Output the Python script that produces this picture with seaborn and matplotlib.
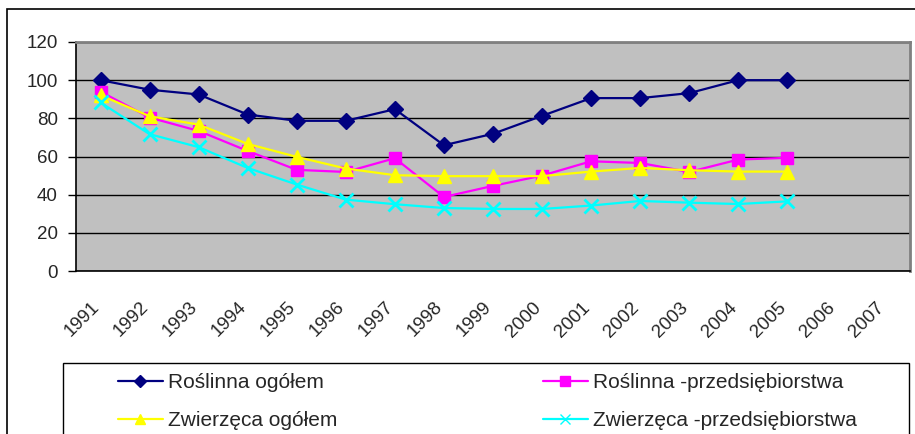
import numpy as np
import pandas as pd
import seaborn as sns
import matplotlib
matplotlib.use("Agg")
from matplotlib import pyplot as plt
from matplotlib.patches import Rectangle
from matplotlib.lines import Line2D

# ------- dane --------------
lata = [str(r) for r in range(1991, 2008)]  # etykiety osi x (1991-2007)

roslinna_ogolem = [100, 95, 92.5, 82, 78.7, 78.7, 84.8, 65.9, 71.9, 81.3, 90.6, 90.6, 93.2, 100, 100]
roslinna_przeds = [94, 80.4, 73.4, 62.9, 53, 51.9, 59.1, 38.8, 44.6, 50, 57.5, 56.6, 51.9, 58.4, 59.3]
zwierzeca_ogolem = [92.1, 81.1, 76.7, 66.6, 59.8, 53.7, 50.2, 49.7, 49.7, 49.7, 52.1, 54, 52.8, 52.1, 52.1]
zwierzeca_przeds = [88.3, 71.7, 64.9, 54, 45.3, 37.4, 35, 33, 32.5, 32.5, 34.3, 36.7, 35.8, 35.1, 36.5]

nazwy = ["Roślinna ogółem", "Roślinna -przedsiębiorstwa",
         "Zwierzęca ogółem", "Zwierzęca -przedsiębiorstwa"]
# ---------------------------

serie = [roslinna_ogolem, roslinna_przeds, zwierzeca_ogolem, zwierzeca_przeds]
kolory = ["#000080", "#FF00FF", "#FFFF00", "#00FFFF"]
markery = ["D", "s", "^", "x"]
rozmiary = [8, 9, 10, 10]

sns.set_style("white")
plt.rcParams["font.family"] = ["Liberation Sans", "DejaVu Sans"]

W, H = 915, 434
fig = plt.figure(figsize=(W / 100, H / 100), dpi=100)

def px(x0, y0, x1, y1):
    # prostokat w pikselach -> wspolrzedne figury
    return [x0 / W, 1 - y1 / H, (x1 - x0) / W, (y1 - y0) / H]

ax = fig.add_axes(px(76, 42, 910, 271))
ax.set_facecolor("#C0C0C0")

tabela = pd.DataFrame()
for nazwa, wart in zip(nazwy, serie):
    tabela = pd.concat([tabela, pd.DataFrame({"x": np.arange(len(wart)), "y": wart, "seria": nazwa})])

for nazwa, kol, mk, ms in zip(nazwy, kolory, markery, rozmiary):
    sns.lineplot(data=tabela[tabela["seria"] == nazwa], x="x", y="y", ax=ax, color=kol,
                 marker=mk, markersize=ms, markeredgecolor=kol,
                 markeredgewidth=2 if mk == "x" else 1, linewidth=1.6, legend=False)

ax.set_xlim(-0.5, len(lata) - 0.5)
ax.set_ylim(0, 120)
ax.set_yticks(range(0, 121, 20))
ax.set_xlabel("")
ax.set_ylabel("")
ax.grid(axis="y", color="black", linewidth=1)
ax.set_axisbelow(True)

# etykiety lat lekko w lewo od srodka kategorii (jak w Excelu)
ax.set_xticks(np.arange(len(lata)) - 0.2)
ax.set_xticklabels(lata, rotation=45, ha="right", va="top", rotation_mode="anchor")
ax.set_xticks(np.arange(-0.5, len(lata)), minor=True)
ax.tick_params(axis="x", which="major", length=0, pad=20, labelsize=13.5)
ax.tick_params(axis="x", which="minor", length=5, width=1, direction="out", color="black")
ax.tick_params(axis="y", length=6, width=1, pad=7, labelsize=13.5, left=True, color="black")

for s in ["left", "bottom"]:
    ax.spines[s].set_color("black")
    ax.spines[s].set_linewidth(1.2)
for s in ["top", "right"]:
    ax.spines[s].set_color("#808080")
    ax.spines[s].set_linewidth(2)

# ramka calego wykresu i legendy
fig.patches.append(Rectangle((7 / W, -0.2), 1.2, 1 - 9 / H + 0.2, transform=fig.transFigure,
                             fill=False, edgecolor="black", linewidth=1.2))
fig.patches.append(Rectangle((63 / W, -0.2), (909 - 63) / W, 1 - 363 / H + 0.2,
                             transform=fig.transFigure, fill=False, edgecolor="black", linewidth=1))

uchwyty = [Line2D([], [], color=k, marker=m, markersize=s * 0.75, markeredgecolor=k, linewidth=1.6)
           for k, m, s in zip(kolory, markery, rozmiary)]

opcje = dict(loc="upper left", frameon=False, borderpad=0, borderaxespad=0,
             handlelength=2.15, handletextpad=0.25, labelspacing=0.93, fontsize=15)
leg1 = fig.legend([uchwyty[0], uchwyty[2]], [nazwy[0], nazwy[2]],
                  bbox_to_anchor=(118 / W, 1 - 373 / H), **opcje)
leg2 = fig.legend([uchwyty[1], uchwyty[3]], [nazwy[1], nazwy[3]],
                  bbox_to_anchor=(543 / W, 1 - 373 / H), **opcje)

plt.savefig("out.png", dpi=100)
